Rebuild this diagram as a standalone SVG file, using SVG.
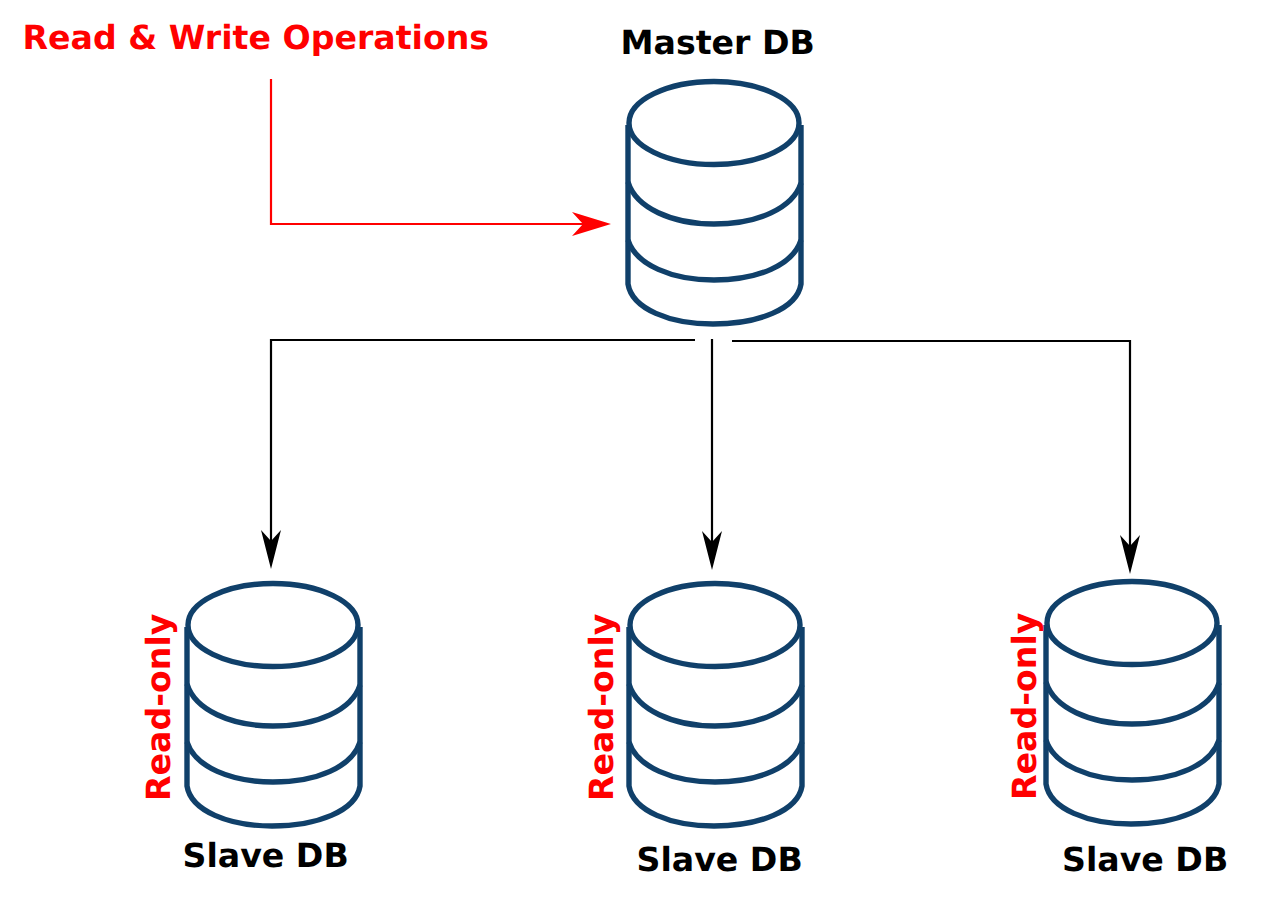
<svg xmlns="http://www.w3.org/2000/svg" width="1263" height="899" viewBox="0 0 1263 899">
<style>
text{font-family:"DejaVu Sans",sans-serif;font-weight:bold;font-size:33.2px;text-rendering:geometricPrecision}
.k{fill:#000}.r{fill:#f00}
.db path,.db ellipse{fill:none;stroke:#10406a;stroke-width:5.4}
.c{fill:none;stroke-width:2.2}
</style>
<defs>
<g id="cyl" class="db">
<ellipse cx="86" cy="42" rx="85" ry="41.5"/>
<path d="M0 44V203C4 228 42 243 85 243C130 243 169 228 173 203V44"/>
<path d="M0 101C8 127 44 143 86 143C130 143 165 127 173 102"/>
<path d="M0 159C8 184 44 199 86 199C130 199 165 184 173 159"/>
</g>
</defs>
<g id="connectors">
<path class="c" stroke="#f00" d="M271 79V224H590"/>
<path d="M611 224L572 212L583 224L572 236Z" fill="#f00"/>
<path class="c" stroke="#000" d="M695 340H271V548"/>
<path d="M271 569L261 530L271 541L281 530Z"/>
<path class="c" stroke="#000" d="M712 339V548"/>
<path d="M712 570L702 531L712 542L722 531Z"/>
<path class="c" stroke="#000" d="M732 341H1130V552"/>
<path d="M1130 574L1120 535L1130 546L1140 535Z"/>
</g>
<g id="master"><use href="#cyl" x="628" y="81"/><text class="k" x="620.5" y="54">Master DB</text></g>
<g id="slave1"><use href="#cyl" x="187" y="583"/><text class="k" x="182.5" y="867">Slave DB</text><text class="r" transform="translate(170,801) rotate(-90)">Read-only</text></g>
<g id="slave2"><use href="#cyl" x="629" y="583"/><text class="k" x="636.5" y="871">Slave DB</text><text class="r" transform="translate(613,801) rotate(-90)">Read-only</text></g>
<g id="slave3"><use href="#cyl" x="1046" y="581"/><text class="k" x="1062" y="871">Slave DB</text><text class="r" transform="translate(1036,800) rotate(-90)">Read-only</text></g>
<text id="rw" class="r" x="22.5" y="49">Read &amp; Write Operations</text>
</svg>
